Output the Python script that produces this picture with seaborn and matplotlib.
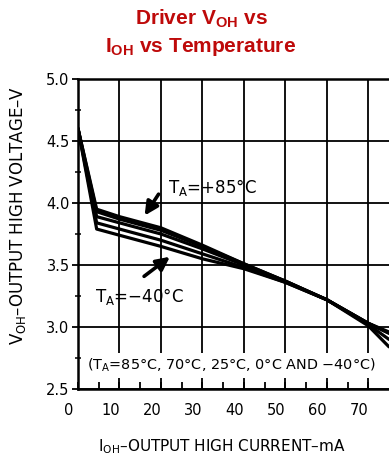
import matplotlib
matplotlib.use("Agg")
import matplotlib.pyplot as plt
import matplotlib.transforms as mtransforms
import numpy as np
import pandas as pd
import seaborn as sns

# Output current (mA) and output-high voltage (V) per ambient temperature
current_ma = [0, 4.5, 10, 20, 30, 40, 50, 60, 70, 75]
voh_85c = [4.60, 3.95, 3.89, 3.80, 3.66, 3.51, 3.37, 3.22, 3.03, 2.95]
voh_70c = [4.60, 3.93, 3.87, 3.78, 3.65, 3.51, 3.37, 3.22, 3.03, 2.95]
voh_25c = [4.60, 3.89, 3.84, 3.75, 3.63, 3.50, 3.37, 3.22, 3.03, 2.96]
voh_0c = [4.60, 3.84, 3.79, 3.70, 3.59, 3.48, 3.36, 3.22, 3.02, 2.90]
voh_m40c = [4.60, 3.79, 3.74, 3.65, 3.55, 3.47, 3.36, 3.22, 3.01, 2.84]
temperatures = ["85", "70", "25", "0", "-40"]

x_ticks = [0, 10, 20, 30, 40, 50, 60, 70]
y_ticks = [2.5, 3.0, 3.5, 4.0, 4.5, 5.0]

series = [voh_85c, voh_70c, voh_25c, voh_0c, voh_m40c]
df = pd.concat(
    [pd.DataFrame({"current": current_ma, "voltage": v, "temp": t})
     for t, v in zip(temperatures, series)],
    ignore_index=True,
)

sns.set_theme(style="white")
plt.rcParams["font.family"] = ["DejaVu Sans"]
plt.rcParams["mathtext.default"] = "regular"

fig = plt.figure(figsize=(3.89, 4.61), dpi=100)
ax = fig.add_axes([78 / 389, 1 - 389 / 461, 311 / 389, 310 / 461])

sns.lineplot(data=df, x="current", y="voltage", hue="temp",
             palette=["black"] * 5, legend=False, sort=False,
             estimator=None, linewidth=2.3, ax=ax, zorder=3)

ax.set_xlim(0, 75)
ax.set_ylim(2.5, 5.0)
ax.set_xticks(x_ticks)
ax.set_yticks(y_ticks)
ax.set_xticks(np.arange(5, 75, 10), minor=True)
ax.set_yticks(np.arange(2.75, 5.0, 0.5), minor=True)
ax.set_xticklabels([str(v) for v in x_ticks])
ax.set_yticklabels([f"{v:.1f}" for v in y_ticks])

ax.grid(True, which="major", color="black", linewidth=1.3, zorder=1)
for side in ["left", "bottom", "top"]:
    ax.spines[side].set_visible(True)
    ax.spines[side].set_color("black")
    ax.spines[side].set_linewidth(1.8)
ax.spines["right"].set_visible(False)

ax.tick_params(axis="x", which="both", direction="in", length=5, width=1.3,
               colors="black", labelsize=10.5, pad=10, bottom=True)
ax.tick_params(axis="y", which="major", direction="out", length=4, width=1.3,
               colors="black", labelsize=10.5, pad=2, left=True)
ax.tick_params(axis="y", which="minor", direction="inout", length=4, width=1.1,
               colors="black", left=True)

# shift the current labels slightly left
offset = mtransforms.ScaledTranslation(-9 / 100, 0, fig.dpi_scale_trans)
for lbl in ax.get_xticklabels():
    lbl.set_transform(lbl.get_transform() + offset)

ax.set_xlabel("I$_{OH}$\u2013OUTPUT HIGH CURRENT\u2013mA", fontsize=11, color="black")
ax.set_ylabel("V$_{OH}$\u2013OUTPUT HIGH VOLTAGE\u2013V", fontsize=12, color="black")
ax.xaxis.set_label_coords(144 / 311, -48 / 310)
ax.yaxis.set_label_coords(-50 / 311, 174 / 310)

ax.annotate("", xy=(15.7, 3.88), xytext=(19.8, 4.09),
            arrowprops=dict(arrowstyle="-|>", color="black", lw=2.6,
                            mutation_scale=20), zorder=5)
ax.annotate("", xy=(22.7, 3.58), xytext=(15.4, 3.395),
            arrowprops=dict(arrowstyle="-|>", color="black", lw=2.6,
                            mutation_scale=20), zorder=5)
ax.text(21.7, 4.08, "T$_A$=+85°C", fontsize=12, color="black",
        ha="left", va="baseline", zorder=5)
ax.text(4.1, 3.20, "T$_A$=\u221240°C", fontsize=12, color="black",
        ha="left", va="baseline", zorder=5)
ax.text(2.2, 2.655, "(T$_A$=85°C, 70°C, 25°C, 0°C AND \u221240°C)",
        fontsize=10.4, color="black", ha="left", va="baseline", zorder=4,
        bbox=dict(facecolor="white", edgecolor="none", pad=3))

title_color = "#BE0A0A"
fig.text(201 / 389, 1 - 19 / 461, "Driver V$_{OH}$ vs", ha="center", va="center",
         fontsize=15, fontweight="bold", color=title_color, family="Liberation Sans")
fig.text(201 / 389, 1 - 47 / 461, "I$_{OH}$ vs Temperature", ha="center", va="center",
         fontsize=15, fontweight="bold", color=title_color, family="Liberation Sans")

fig.savefig("out.png", dpi=100)
